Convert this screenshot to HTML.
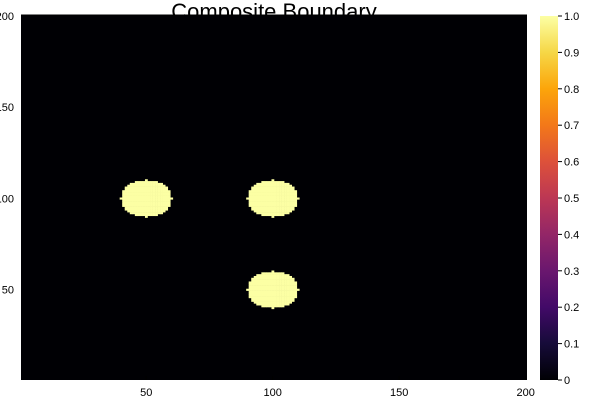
<!DOCTYPE html>
<html><head><meta charset="utf-8"><style>body{margin:0;background:#fff}svg{display:block;font-family:"Liberation Sans","DejaVu Sans",sans-serif}</style></head>
<body>
<svg id="c" width="600" height="400">
<defs><linearGradient id="inf" x1="0" y1="1" x2="0" y2="0">
<stop offset="0" stop-color="#000004"/><stop offset="0.1" stop-color="#160b39"/><stop offset="0.2" stop-color="#420a68"/><stop offset="0.3" stop-color="#6a176e"/><stop offset="0.4" stop-color="#932667"/><stop offset="0.5" stop-color="#bc3754"/><stop offset="0.6" stop-color="#dd513a"/><stop offset="0.7" stop-color="#f37819"/><stop offset="0.8" stop-color="#fca50a"/><stop offset="0.9" stop-color="#f6d746"/><stop offset="1" stop-color="#fcffa4"/></linearGradient></defs>
<text x="274" y="19" font-size="22" text-anchor="middle">Composite Boundary</text>
<g id="plot"></g>
<g id="axes"></g>
<rect x="540" y="16" width="18" height="364" fill="url(#inf)"/>
<g id="cbar"></g>
</svg>
<script>
const centersX=[50,100,100];
const centersY=[100,100,50];
const radii=[10,10,10];
const xTicks=[50,100,150,200];
const yTicks=[50,100,150,200];
const cTicks=[0,0.1,0.2,0.3,0.4,0.5,0.6,0.7,0.8,0.9,1.0];
const cLabels=["0","0.1","0.2","0.3","0.4","0.5","0.6","0.7","0.8","0.9","1.0"];
const NS="http://www.w3.org/2000/svg";
const L=21,R=527,T=15,B=380;
const xs=v=>L+(v-0.5)/200*(R-L);
const ys=v=>B-(v-0.5)/200*(B-T);
function mk(t,a,p){const e=document.createElementNS(NS,t);for(const k in a)e.setAttribute(k,a[k]);p.appendChild(e);return e;}
const plot=document.getElementById('plot');
const bg=mk('rect',{x:L,y:T,width:R-L,height:B-T,fill:'#000004'},plot);


for(let k=0;k<centersX.length;k++){
  const g=mk('g',{},plot);
  
  
  const r=radii[k];
  for(let i=centersX[k]-r;i<=centersX[k]+r;i++)for(let j=centersY[k]-r;j<=centersY[k]+r;j++){
    if((i-centersX[k])**2+(j-centersY[k])**2<=r*r){
      const x0=xs(i-0.5),x1=xs(i+0.5),y0=ys(j+0.5),y1=ys(j-0.5);
      mk('rect',{x:x0,y:y0,width:x1-x0+0.3,height:y1-y0+0.3,fill:'#fcffa4'},g);
    }
  }
}
const ax=document.getElementById('axes');
mk('line',{x1:L,y1:T,x2:R,y2:T,stroke:'#000','stroke-width':1},ax);
xTicks.forEach(v=>{const t=mk('text',{x:xs(v),y:396,'font-size':11,'text-anchor':'middle'},ax);t.textContent=v;


mk('line',{x1:xs(v),y1:B,x2:xs(v),y2:B-4,stroke:'#000'},ax);});
yTicks.forEach(v=>{const t=mk('text',{x:14,y:ys(v)+4,'font-size':11,'text-anchor':'end'},ax);t.textContent=v;

});
const cb=document.getElementById('cbar');
cTicks.forEach((v,i)=>{const y=380-v*364;
mk('line',{x1:558,y1:y,x2:562,y2:y,stroke:'#000'},cb);
const t=mk('text',{x:564,y:y+4,'font-size':11},cb);t.textContent=cLabels[i];

});
</script>
</body></html>
